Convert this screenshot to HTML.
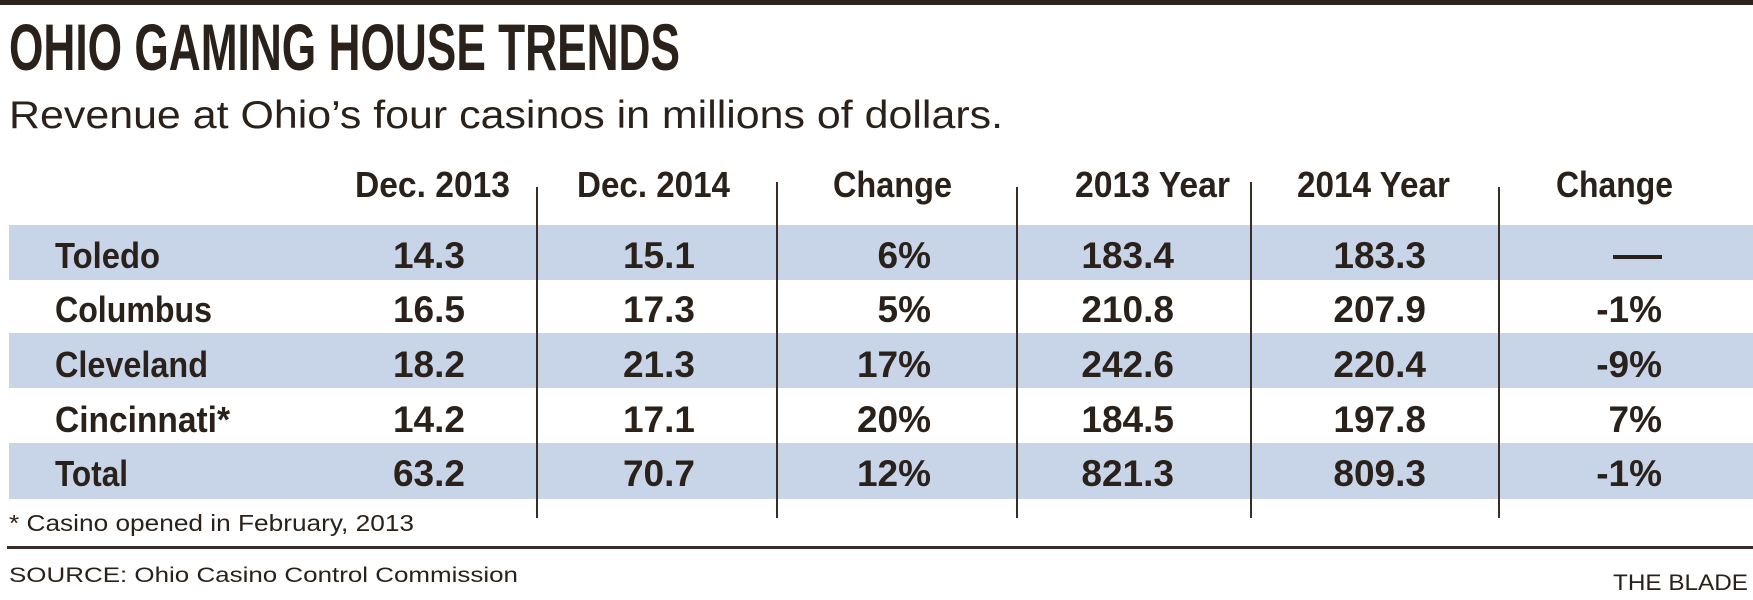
<!DOCTYPE html>
<html><head><meta charset="utf-8"><style>
html,body{margin:0;padding:0;background:#fff;}
svg{display:block;}
text{fill:#2a211b;font-family:"Liberation Sans",sans-serif;}
.b{font-weight:bold;}
</style></head><body>
<svg width="1753" height="600" viewBox="0 0 1753 600" xmlns="http://www.w3.org/2000/svg">
<rect x="0" y="0" width="1753" height="5" fill="#2e241e"/>
<text class="b" x="9" y="70" font-size="66" textLength="671" lengthAdjust="spacingAndGlyphs">OHIO GAMING HOUSE TRENDS</text>
<text x="9" y="128" font-size="39" textLength="994" lengthAdjust="spacingAndGlyphs">Revenue at Ohio’s four casinos in millions of dollars.</text>

<g class="b" font-size="36">
<text x="355" y="197" textLength="155" lengthAdjust="spacingAndGlyphs">Dec. 2013</text>
<text x="577" y="197" textLength="153" lengthAdjust="spacingAndGlyphs">Dec. 2014</text>
<text x="833" y="197" textLength="119" lengthAdjust="spacingAndGlyphs">Change</text>
<text x="1075" y="197" textLength="155" lengthAdjust="spacingAndGlyphs">2013 Year</text>
<text x="1297" y="197" textLength="153" lengthAdjust="spacingAndGlyphs">2014 Year</text>
<text x="1556" y="197" textLength="117" lengthAdjust="spacingAndGlyphs">Change</text>
</g>

<g fill="#c8d5e9">
<rect x="9" y="225" width="1744" height="55"/>
<rect x="9" y="333" width="1744" height="55"/>
<rect x="9" y="443" width="1744" height="56"/>
</g>

<g stroke="#3a2d25" stroke-width="2">
<line x1="537" y1="187" x2="537" y2="518"/>
<line x1="777" y1="182" x2="777" y2="518"/>
<line x1="1017" y1="187" x2="1017" y2="518"/>
<line x1="1251" y1="182" x2="1251" y2="518"/>
<line x1="1499" y1="187" x2="1499" y2="518"/>
</g>

<g class="b" font-size="36">
<text x="55" y="268" textLength="105" lengthAdjust="spacingAndGlyphs">Toledo</text>
<text x="55" y="322" textLength="157" lengthAdjust="spacingAndGlyphs">Columbus</text>
<text x="55" y="377" textLength="153" lengthAdjust="spacingAndGlyphs">Cleveland</text>
<text x="55" y="432" textLength="175" lengthAdjust="spacingAndGlyphs">Cincinnati*</text>
<text x="55" y="486" textLength="73" lengthAdjust="spacingAndGlyphs">Total</text>
</g>

<g class="b" font-size="37" text-anchor="end">
<text x="465" y="268">14.3</text><text x="695" y="268">15.1</text><text x="931" y="268">6%</text><text x="1174" y="268">183.4</text><text x="1426" y="268">183.3</text>
<text x="465" y="322">16.5</text><text x="695" y="322">17.3</text><text x="931" y="322">5%</text><text x="1174" y="322">210.8</text><text x="1426" y="322">207.9</text><text x="1662" y="322">-1%</text>
<text x="465" y="377">18.2</text><text x="695" y="377">21.3</text><text x="931" y="377">17%</text><text x="1174" y="377">242.6</text><text x="1426" y="377">220.4</text><text x="1662" y="377">-9%</text>
<text x="465" y="432">14.2</text><text x="695" y="432">17.1</text><text x="931" y="432">20%</text><text x="1174" y="432">184.5</text><text x="1426" y="432">197.8</text><text x="1662" y="432">7%</text>
<text x="465" y="486">63.2</text><text x="695" y="486">70.7</text><text x="931" y="486">12%</text><text x="1174" y="486">821.3</text><text x="1426" y="486">809.3</text><text x="1662" y="486">-1%</text>
</g>
<rect x="1613" y="255" width="49" height="4" fill="#2a211b"/>

<text x="9" y="531" font-size="23" textLength="405" lengthAdjust="spacingAndGlyphs">* Casino opened in February, 2013</text>
<rect x="7" y="546" width="1746" height="3" fill="#3a2d25"/>
<text x="9" y="582" font-size="21" textLength="509" lengthAdjust="spacingAndGlyphs">SOURCE: Ohio Casino Control Commission</text>
<text x="1613" y="590" font-size="22" textLength="135" lengthAdjust="spacingAndGlyphs">THE BLADE</text>
</svg>
</body></html>
